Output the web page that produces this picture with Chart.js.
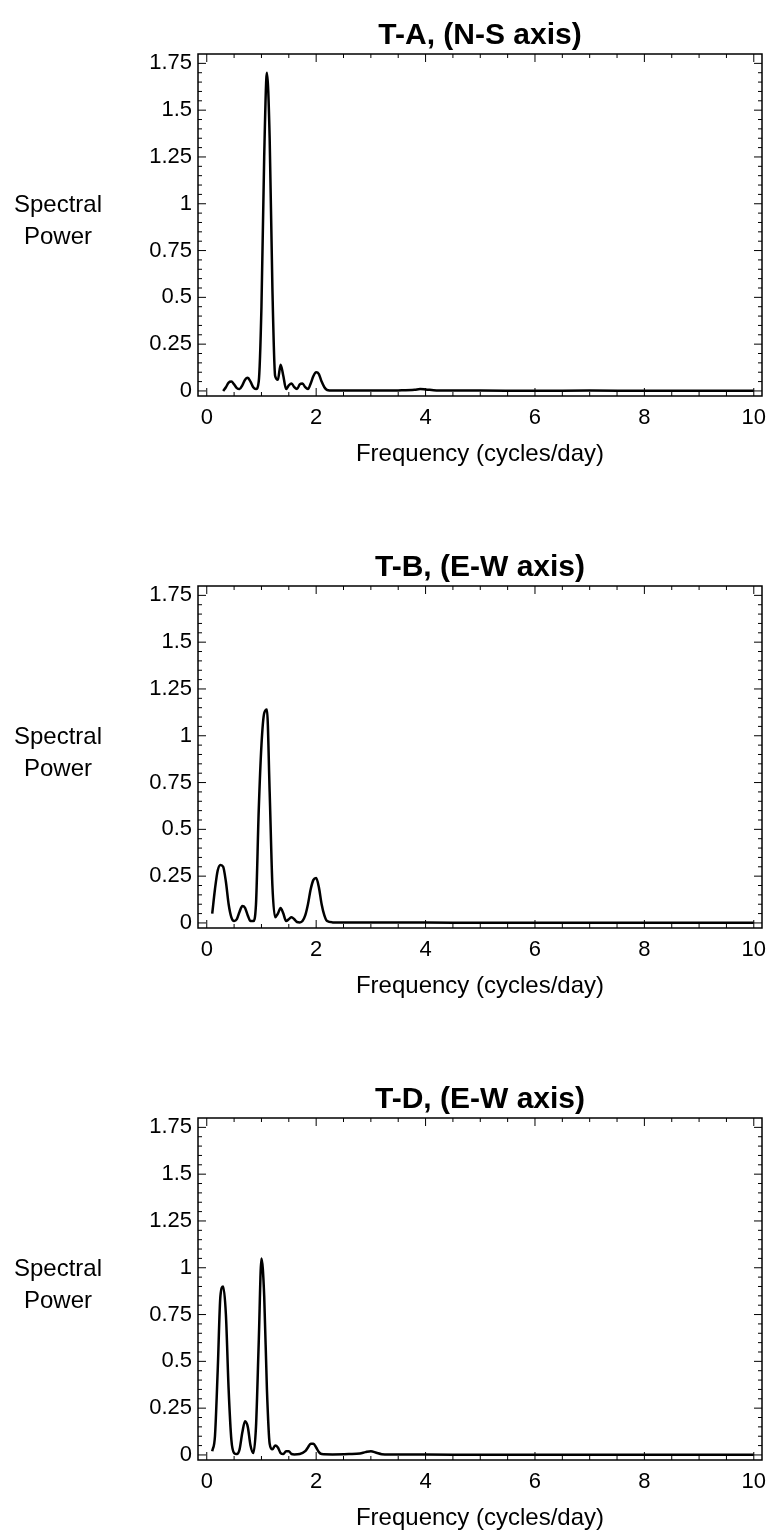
<!DOCTYPE html>
<html>
<head>
<meta charset="utf-8">
<script src="https://cdn.jsdelivr.net/npm/chart.js@4.4.1/dist/chart.umd.min.js"></script>
<style>
  body { margin: 0; background: #fff; }
  .block { position: relative; width: 767px; }
  .ylab {
    position: absolute; left: 0; width: 116px; top: 188px;
    font: 24px "Liberation Sans", Arial, sans-serif; line-height: 32px;
    text-align: center; color: #000;
  }
</style>
</head>
<body>
<div class="block"><canvas id="c0" width="767" height="532"></canvas><div class="ylab">Spectral<br>Power</div></div>
<div class="block"><canvas id="c1" width="767" height="532"></canvas><div class="ylab">Spectral<br>Power</div></div>
<div class="block"><canvas id="c2" width="767" height="473"></canvas><div class="ylab">Spectral<br>Power</div></div>
<script>
const titles = ['T-A, (N-S axis)', 'T-B, (E-W axis)', 'T-D, (E-W axis)'];
const xTitle = 'Frequency (cycles/day)';
const xTickValues = [0, 2, 4, 6, 8, 10];
const yTickValues = [0, 0.25, 0.5, 0.75, 1, 1.25, 1.5, 1.75];

// T-A
const freqA = [0.3, 0.35, 0.4, 0.45, 0.5, 0.55, 0.6, 0.65, 0.7, 0.75, 0.8, 0.85, 0.9, 0.95, 1.0, 1.05, 1.1, 1.15, 1.2, 1.25,
  1.3, 1.35, 1.4, 1.45, 1.5, 1.55, 1.6, 1.65, 1.7, 1.75, 1.8, 1.85, 1.9, 1.95, 2.0, 2.05, 2.1, 2.15, 2.2, 2.3,
  2.6, 3.0, 3.5, 3.8, 3.9, 4.0, 4.2, 5, 6, 7, 8, 9, 10];
const powerA = [0.0, 0.02, 0.045, 0.05, 0.035, 0.015, 0.01, 0.03, 0.06, 0.07, 0.05, 0.02, 0.01, 0.05, 0.45, 1.25, 1.7, 1.35, 0.55, 0.08,
  0.06, 0.14, 0.08, 0.01, 0.03, 0.04, 0.02, 0.01, 0.035, 0.04, 0.02, 0.01, 0.04, 0.08, 0.1, 0.09, 0.05, 0.02, 0.005, 0.002,
  0.003, 0.002, 0.003, 0.006, 0.01, 0.008, 0.003, 0.002, 0.001, 0.002, 0.001, 0.001, 0.001];

// T-B
const freqB = [0.1, 0.15, 0.2, 0.25, 0.3, 0.35, 0.4, 0.45, 0.5, 0.55, 0.6, 0.65, 0.7, 0.75, 0.8, 0.85, 0.9, 0.95, 1.0, 1.05,
  1.1, 1.15, 1.2, 1.25, 1.3, 1.35, 1.4, 1.45, 1.5, 1.55, 1.6, 1.65, 1.7, 1.75, 1.8, 1.85, 1.9, 1.95, 2.0, 2.05,
  2.1, 2.15, 2.2, 2.3, 2.6, 3, 4, 5, 6, 7, 8, 9, 10];
const powerB = [0.05, 0.18, 0.28, 0.31, 0.3, 0.22, 0.1, 0.03, 0.01, 0.02, 0.06, 0.09, 0.08, 0.04, 0.01, 0.01, 0.1, 0.6, 0.95, 1.12,
  1.14, 0.7, 0.2, 0.03, 0.05, 0.08, 0.05, 0.01, 0.02, 0.03, 0.02, 0.005, 0.003, 0.01, 0.04, 0.1, 0.18, 0.23, 0.24, 0.19,
  0.1, 0.04, 0.01, 0.003, 0.002, 0.002, 0.002, 0.001, 0.001, 0.001, 0.001, 0.001, 0.001];

// T-D
const freqD = [0.1, 0.15, 0.2, 0.25, 0.3, 0.35, 0.4, 0.45, 0.5, 0.55, 0.6, 0.65, 0.7, 0.75, 0.8, 0.85, 0.9, 0.95, 1.0, 1.05,
  1.1, 1.15, 1.2, 1.25, 1.3, 1.35, 1.4, 1.45, 1.5, 1.55, 1.6, 1.7, 1.8, 1.85, 1.9, 1.95, 2.0, 2.05, 2.1, 2.3,
  2.6, 2.8, 2.9, 3.0, 3.1, 3.2, 3.5, 4, 5, 6, 7, 8, 9, 10];
const powerD = [0.02, 0.1, 0.45, 0.85, 0.9, 0.75, 0.35, 0.08, 0.01, 0.005, 0.03, 0.12, 0.18, 0.15, 0.05, 0.01, 0.15, 0.6, 1.05, 0.85,
  0.35, 0.06, 0.03, 0.05, 0.04, 0.01, 0.005, 0.02, 0.02, 0.005, 0.003, 0.005, 0.02, 0.04, 0.06, 0.06, 0.04, 0.015, 0.005, 0.003,
  0.005, 0.008, 0.015, 0.02, 0.012, 0.004, 0.002, 0.002, 0.001, 0.001, 0.001, 0.001, 0.001, 0.001];

const series = [[freqA, powerA], [freqB, powerB], [freqD, powerD]];
const bottomPad = [63, 63, 4];
const FONT = '"Liberation Sans", Arial, sans-serif';

// frame with inward ticks on all four sides (Mathematica style)
const framePlugin = {
  id: 'frame',
  afterDraw(chart) {
    const { ctx, chartArea: a, scales: { x, y } } = chart;
    ctx.save();
    ctx.strokeStyle = '#000';
    ctx.lineWidth = 1.5;
    ctx.strokeRect(a.left, a.top, a.right - a.left, a.bottom - a.top);
    ctx.lineWidth = 1;
    ctx.beginPath();
    for (let v = 0; v <= 10.001; v += 0.5) {
      const px = x.getPixelForValue(v);
      const len = Math.abs(v / 2 - Math.round(v / 2)) < 1e-6 ? 8 : 4;
      ctx.moveTo(px, a.bottom); ctx.lineTo(px, a.bottom - len);
      ctx.moveTo(px, a.top); ctx.lineTo(px, a.top + len);
    }
    for (let i = 0; i <= 35; i++) {
      const v = i * 0.05;
      const py = y.getPixelForValue(v);
      const len = i % 5 === 0 ? 8 : 4;
      ctx.moveTo(a.left, py); ctx.lineTo(a.left + len, py);
      ctx.moveTo(a.right, py); ctx.lineTo(a.right - len, py);
    }
    ctx.stroke();
    ctx.restore();
  }
};

series.forEach(([freq, power], k) => {
  new Chart(document.getElementById('c' + k), {
    type: 'line',
    data: {
      datasets: [{
        data: freq.map((f, i) => ({ x: f, y: power[i] })),
        borderColor: '#000',
        borderWidth: 2.5,
        pointRadius: 0,
        fill: false,
        cubicInterpolationMode: 'monotone'
      }]
    },
    options: {
      responsive: false,
      animation: false,
      layout: { padding: { left: 0, right: 5, top: 0, bottom: bottomPad[k] } },
      plugins: {
        legend: { display: false },
        tooltip: { enabled: false },
        title: {
          display: true,
          fullSize: false,
          text: titles[k],
          color: '#000',
          font: { family: FONT, size: 30, weight: 'bold' },
          padding: { top: 18, bottom: 0 }
        }
      },
      scales: {
        x: {
          type: 'linear',
          min: -0.16,
          max: 10.15,
          grid: { display: false, drawTicks: false },
          border: { display: false },
          afterBuildTicks: s => { s.ticks = xTickValues.map(v => ({ value: v })); },
          afterFit: s => { s.height = 73; s.paddingLeft = 0; s.paddingRight = 0; },
          ticks: { color: '#000', font: { family: FONT, size: 22 }, padding: 9, maxRotation: 0, callback: v => String(v) },
          title: { display: true, text: xTitle, color: '#000', font: { family: FONT, size: 24 }, padding: 0 }
        },
        y: {
          type: 'linear',
          min: -0.027,
          max: 1.8,
          grid: { display: false, drawTicks: false },
          border: { display: false },
          afterBuildTicks: s => { s.ticks = yTickValues.map(v => ({ value: v })); },
          afterFit: s => { s.width = 198; s.paddingTop = 0; s.paddingBottom = 0; },
          ticks: { color: '#000', font: { family: FONT, size: 22 }, padding: 6, callback: v => String(v) }
        }
      }
    },
    plugins: [framePlugin]
  });
});
</script>
</body>
</html>
